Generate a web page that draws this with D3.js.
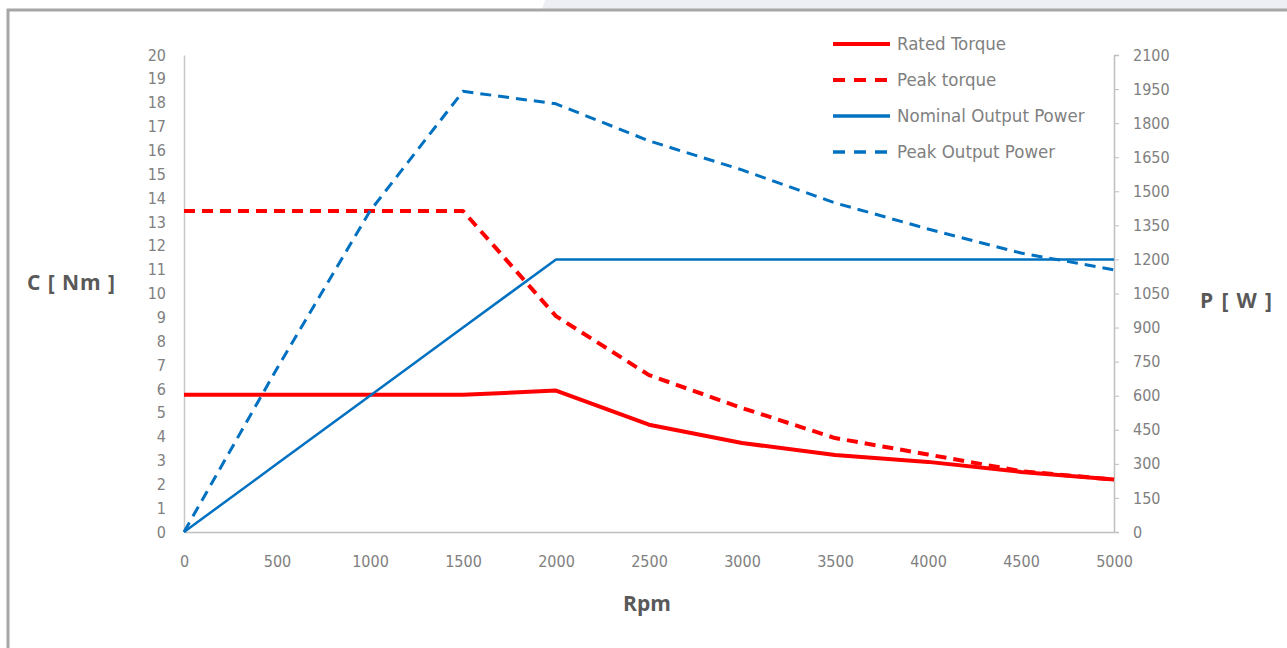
<!DOCTYPE html>
<html>
<head>
<meta charset="utf-8">
<script src="https://cdn.jsdelivr.net/npm/d3@7"></script>
<style>
  body { margin: 0; background: #fff; }
  svg { display: block; }
  .tick text { fill: #808080; font-family: "Liberation Sans Narrow", "DejaVu Sans Condensed", sans-serif; font-size: 16px; }
</style>
</head>
<body>
<div id="chart"></div>
<script>
// data
const rpm = [0, 500, 1000, 1500, 2000, 2500, 3000, 3500, 4000, 4500, 5000];
const ratedTorque = [5.75, 5.75, 5.75, 5.75, 5.93, 4.5, 3.73, 3.23, 2.94, 2.52, 2.2];
const peakTorque = [13.46, 13.46, 13.46, 13.46, 9.05, 6.58, 5.2, 3.94, 3.25, 2.55, 2.2];
const nominalPower = [0, 300, 600, 900, 1200, 1200, 1200, 1200, 1200, 1200, 1200];
const peakPower = [0, 720, 1413, 1940, 1885, 1722, 1594, 1449, 1334, 1228, 1154];

const torqueTicks = d3.range(0, 21, 1);
const powerTicks = d3.range(0, 2101, 150);
const rpmTicks = d3.range(0, 5001, 500);

const seriesList = [
  { name: "Rated Torque", values: ratedTorque, axis: "left", color: "#ff0000", width: 4, dash: null },
  { name: "Peak torque", values: peakTorque, axis: "left", color: "#ff0000", width: 4, dash: "11,7" },
  { name: "Nominal Output Power", values: nominalPower, axis: "right", color: "#0070c0", width: 2.5, dash: null },
  { name: "Peak Output Power", values: peakPower, axis: "right", color: "#0070c0", width: 3, dash: "11,7" }
];

const w = 1287, h = 648;
const pLeft = 184, pRight = 1114, pTop = 55, pBottom = 532;

const svg = d3.select("#chart").append("svg")
  .attr("width", w).attr("height", h);

// page background bits round the frame
svg.append("path")
  .attr("d", "M545,0 L1287,0 L1287,9 L542,9 Z")
  .attr("fill", "#eeeff4");
svg.append("path")
  .attr("d", "M8,648 L8,10 L1287,10")
  .attr("fill", "none")
  .attr("stroke", "#a6a6a6")
  .attr("stroke-width", 3);

const x = d3.scaleLinear().domain([0, 5000]).range([pLeft, pRight]);
const yL = d3.scaleLinear().domain([0, 20]).range([pBottom, pTop]);
const yR = d3.scaleLinear().domain([0, 2100]).range([pBottom, pTop]);
const plain = d3.format("d");

// axes
const gx = svg.append("g").attr("transform", `translate(0,${pBottom})`)
  .call(d3.axisBottom(x).tickValues(rpmTicks).tickFormat(plain).tickSize(0).tickPadding(24));
gx.select(".domain").attr("stroke", "#bfbfbf").attr("stroke-width", 1.5);

const gl = svg.append("g").attr("transform", `translate(${pLeft},0)`)
  .call(d3.axisLeft(yL).tickValues(torqueTicks).tickFormat(plain).tickSize(0).tickPadding(18));
gl.select(".domain").attr("stroke", "#c8c8c8").attr("stroke-width", 1.5);

const gr = svg.append("g").attr("transform", `translate(${pRight},0)`)
  .call(d3.axisRight(yR).tickValues(powerTicks).tickFormat(plain).tickSize(5).tickPadding(14));
gr.select(".domain").attr("stroke", "#bfbfbf").attr("stroke-width", 1.5);
gr.selectAll(".tick line").attr("stroke", "#bfbfbf");

// lines
seriesList.forEach(s => {
  const yS = s.axis == "left" ? yL : yR;
  const line = d3.line()
    .x((d, i) => x(rpm[i]))
    .y(d => yS(d));
  svg.append("path")
    .datum(s.values)
    .attr("d", line)
    .attr("fill", "none")
    .attr("stroke", s.color)
    .attr("stroke-width", s.width)
    .attr("stroke-dasharray", s.dash)
    .attr("stroke-linejoin", "round");
});

// axis titles
const titleFont = "'Open Sans', 'DejaVu Sans', sans-serif";
svg.append("text").text("Rpm")
  .attr("x", 647).attr("y", 611)
  .attr("text-anchor", "middle")
  .style("font-family", titleFont).style("font-weight", "bold")
  .style("font-size", "21px").style("fill", "#595959");
svg.append("text").text("C [ Nm ]")
  .attr("x", 27).attr("y", 290)
  .attr("textLength", 88)
  .style("font-family", titleFont).style("font-weight", "bold")
  .style("font-size", "21px").style("fill", "#595959");
svg.append("text").text("P [ W ]")
  .attr("x", 1200).attr("y", 308)
  .attr("textLength", 72)
  .style("font-family", titleFont).style("font-weight", "bold")
  .style("font-size", "21px").style("fill", "#595959");

// legend
const legend = svg.append("g");
seriesList.forEach((s, i) => {
  const ly = 44 + i * 36;
  legend.append("line")
    .attr("x1", 833).attr("x2", 890)
    .attr("y1", ly).attr("y2", ly)
    .attr("stroke", s.color)
    .attr("stroke-width", i < 2 ? 4 : 3.5)
    .attr("stroke-dasharray", s.dash ? "12,9" : null);
  legend.append("text").text(s.name)
    .attr("x", 897).attr("y", ly + 6)
    .style("font-family", "'Liberation Sans Narrow', 'DejaVu Sans Condensed', sans-serif")
    .style("font-size", "18.5px").style("fill", "#808080");
});
</script>
</body>
</html>
